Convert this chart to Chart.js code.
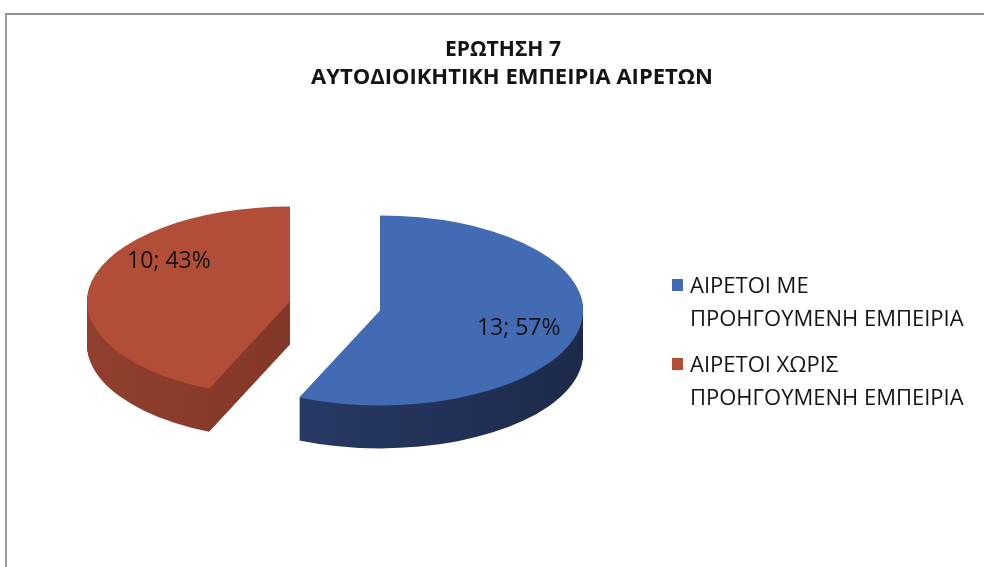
<!DOCTYPE html>
<html>
<head>
<meta charset="utf-8">
<script src="https://cdn.jsdelivr.net/npm/chart.js@4.4.1/dist/chart.umd.min.js"></script>
<style>
  html, body { margin: 0; padding: 0; background: #ffffff; }
  #frame {
    position: absolute; left: 5px; top: 13px; width: 979px; height: 554px;
    border-top: 2px solid #8e8e8e; border-left: 2px solid #9c9c9c;
  }
  #wrap { position: absolute; left: 0; top: 0; width: 984px; height: 567px; }
</style>
</head>
<body>
<div id="frame"></div>
<div id="wrap"><canvas id="pieChart" width="984" height="567"></canvas></div>
<script>
const titleLines = ["ΕΡΩΤΗΣΗ 7", "ΑΥΤΟΔΙΟΙΚΗΤΙΚΗ ΕΜΠΕΙΡΙΑ ΑΙΡΕΤΩΝ"];
const categories = [
  ["ΑΙΡΕΤΟΙ ΜΕ", "ΠΡΟΗΓΟΥΜΕΝΗ ΕΜΠΕΙΡΙΑ"],
  ["ΑΙΡΕΤΟΙ ΧΩΡΙΣ", "ΠΡΟΗΓΟΥΜΕΝΗ ΕΜΠΕΙΡΙΑ"]
];
const counts = [13, 10];

const topColors = ["#436bb3", "#b24d37"];
const sideLight = ["#2d4477", "#96422f"];
const sideDark = ["#1b2644", "#6f2c21"];

// fake 3d look
const TILT = 0.468;
const DEPTH = 43;
const EXPLODE = 46;
// where the value labels sit on each slice (fraction of sweep, fraction of radius)
const labelSpots = [[0.52, 0.71], [0.65, 0.73]];

const FONT = "'Open Sans', 'DejaVu Sans', sans-serif";

function sideGradient(ctx, cx, i) {
  const g = ctx.createLinearGradient(cx - 260, 0, cx + 260, 0);
  g.addColorStop(0, sideLight[i]);
  g.addColorStop(1, sideDark[i]);
  return g;
}

function placeSlice(ctx, arc, cx, cy, dy) {
  const mid = (arc.startAngle + arc.endAngle) / 2;
  ctx.translate(cx, cy + dy);
  ctx.scale(1, TILT);
  ctx.translate(Math.cos(mid) * EXPLODE, Math.sin(mid) * EXPLODE);
  ctx.translate(-cx, -cy);
}

const pie3d = {
  id: "pie3d",
  beforeDatasetsDraw(chart) {
    const ctx = chart.ctx;
    const arcs = chart.getDatasetMeta(0).data;
    const cx = arcs[0].x;
    const cy = arcs[0].y;

    for (let d = DEPTH; d > 0; d--) {
      arcs.forEach((arc, i) => {
        ctx.save();
        placeSlice(ctx, arc, cx, cy, d);
        ctx.fillStyle = sideGradient(ctx, cx, i);
        ctx.beginPath();
        ctx.moveTo(arc.x, arc.y);
        ctx.arc(arc.x, arc.y, arc.outerRadius, arc.startAngle, arc.endAngle);
        ctx.closePath();
        ctx.fill();
        ctx.restore();
      });
    }

    arcs.forEach((arc) => {
      ctx.save();
      placeSlice(ctx, arc, cx, cy, 0);
      arc.draw(ctx);
      ctx.restore();
    });
    return false;
  },
  afterDraw(chart) {
    const ctx = chart.ctx;
    const arcs = chart.getDatasetMeta(0).data;
    const cx = arcs[0].x;
    const cy = arcs[0].y;
    const total = counts.reduce((a, b) => a + b, 0);

    ctx.save();
    ctx.fillStyle = "#141414";
    ctx.textBaseline = "alphabetic";

    // title
    ctx.font = "bold 22px " + FONT;
    ctx.textAlign = "center";
    ctx.fillText(titleLines[0], 503, 56, 116);
    ctx.fillText(titleLines[1], 512, 84, 416);

    // value labels
    ctx.font = "23px " + FONT;
    arcs.forEach((arc, i) => {
      const mid = (arc.startAngle + arc.endAngle) / 2;
      const a = arc.startAngle + (arc.endAngle - arc.startAngle) * labelSpots[i][0];
      const r = arc.outerRadius * labelSpots[i][1];
      const x = cx + Math.cos(mid) * EXPLODE + Math.cos(a) * r;
      const y = cy + (Math.sin(mid) * EXPLODE + Math.sin(a) * r) * TILT;
      const pct = Math.round(counts[i] / total * 100);
      ctx.textBaseline = "middle";
      ctx.fillText(counts[i] + "; " + pct + "%", x, y, 84);
    });

    // legend
    ctx.textAlign = "left";
    ctx.textBaseline = "alphabetic";
    ctx.font = "22px " + FONT;
    categories.forEach((lines, i) => {
      const top = 279 + i * 79;
      ctx.fillStyle = topColors[i];
      ctx.fillRect(672, top, 11, 12);
      ctx.fillStyle = "#141414";
      lines.forEach((line, j) => {
        ctx.fillText(line, 690, top + 14 + j * 33, 279);
      });
    });
    ctx.restore();
  }
};

const ctx = document.getElementById("pieChart").getContext("2d");
const pieChart = new Chart(ctx, {
  type: "pie",
  data: {
    labels: categories.map(l => l.join(" ")),
    datasets: [
      {
        data: counts,
        backgroundColor: topColors,
        borderWidth: 0,
        clip: false
      }
    ]
  },
  options: {
    responsive: false,
    animation: false,
    radius: 203,
    layout: {
      padding: { left: 85, right: 399, top: 56, bottom: 11 }
    },
    plugins: {
      legend: { display: false },
      title: { display: false },
      tooltip: { enabled: false }
    }
  },
  plugins: [pie3d]
});
</script>
</body>
</html>
